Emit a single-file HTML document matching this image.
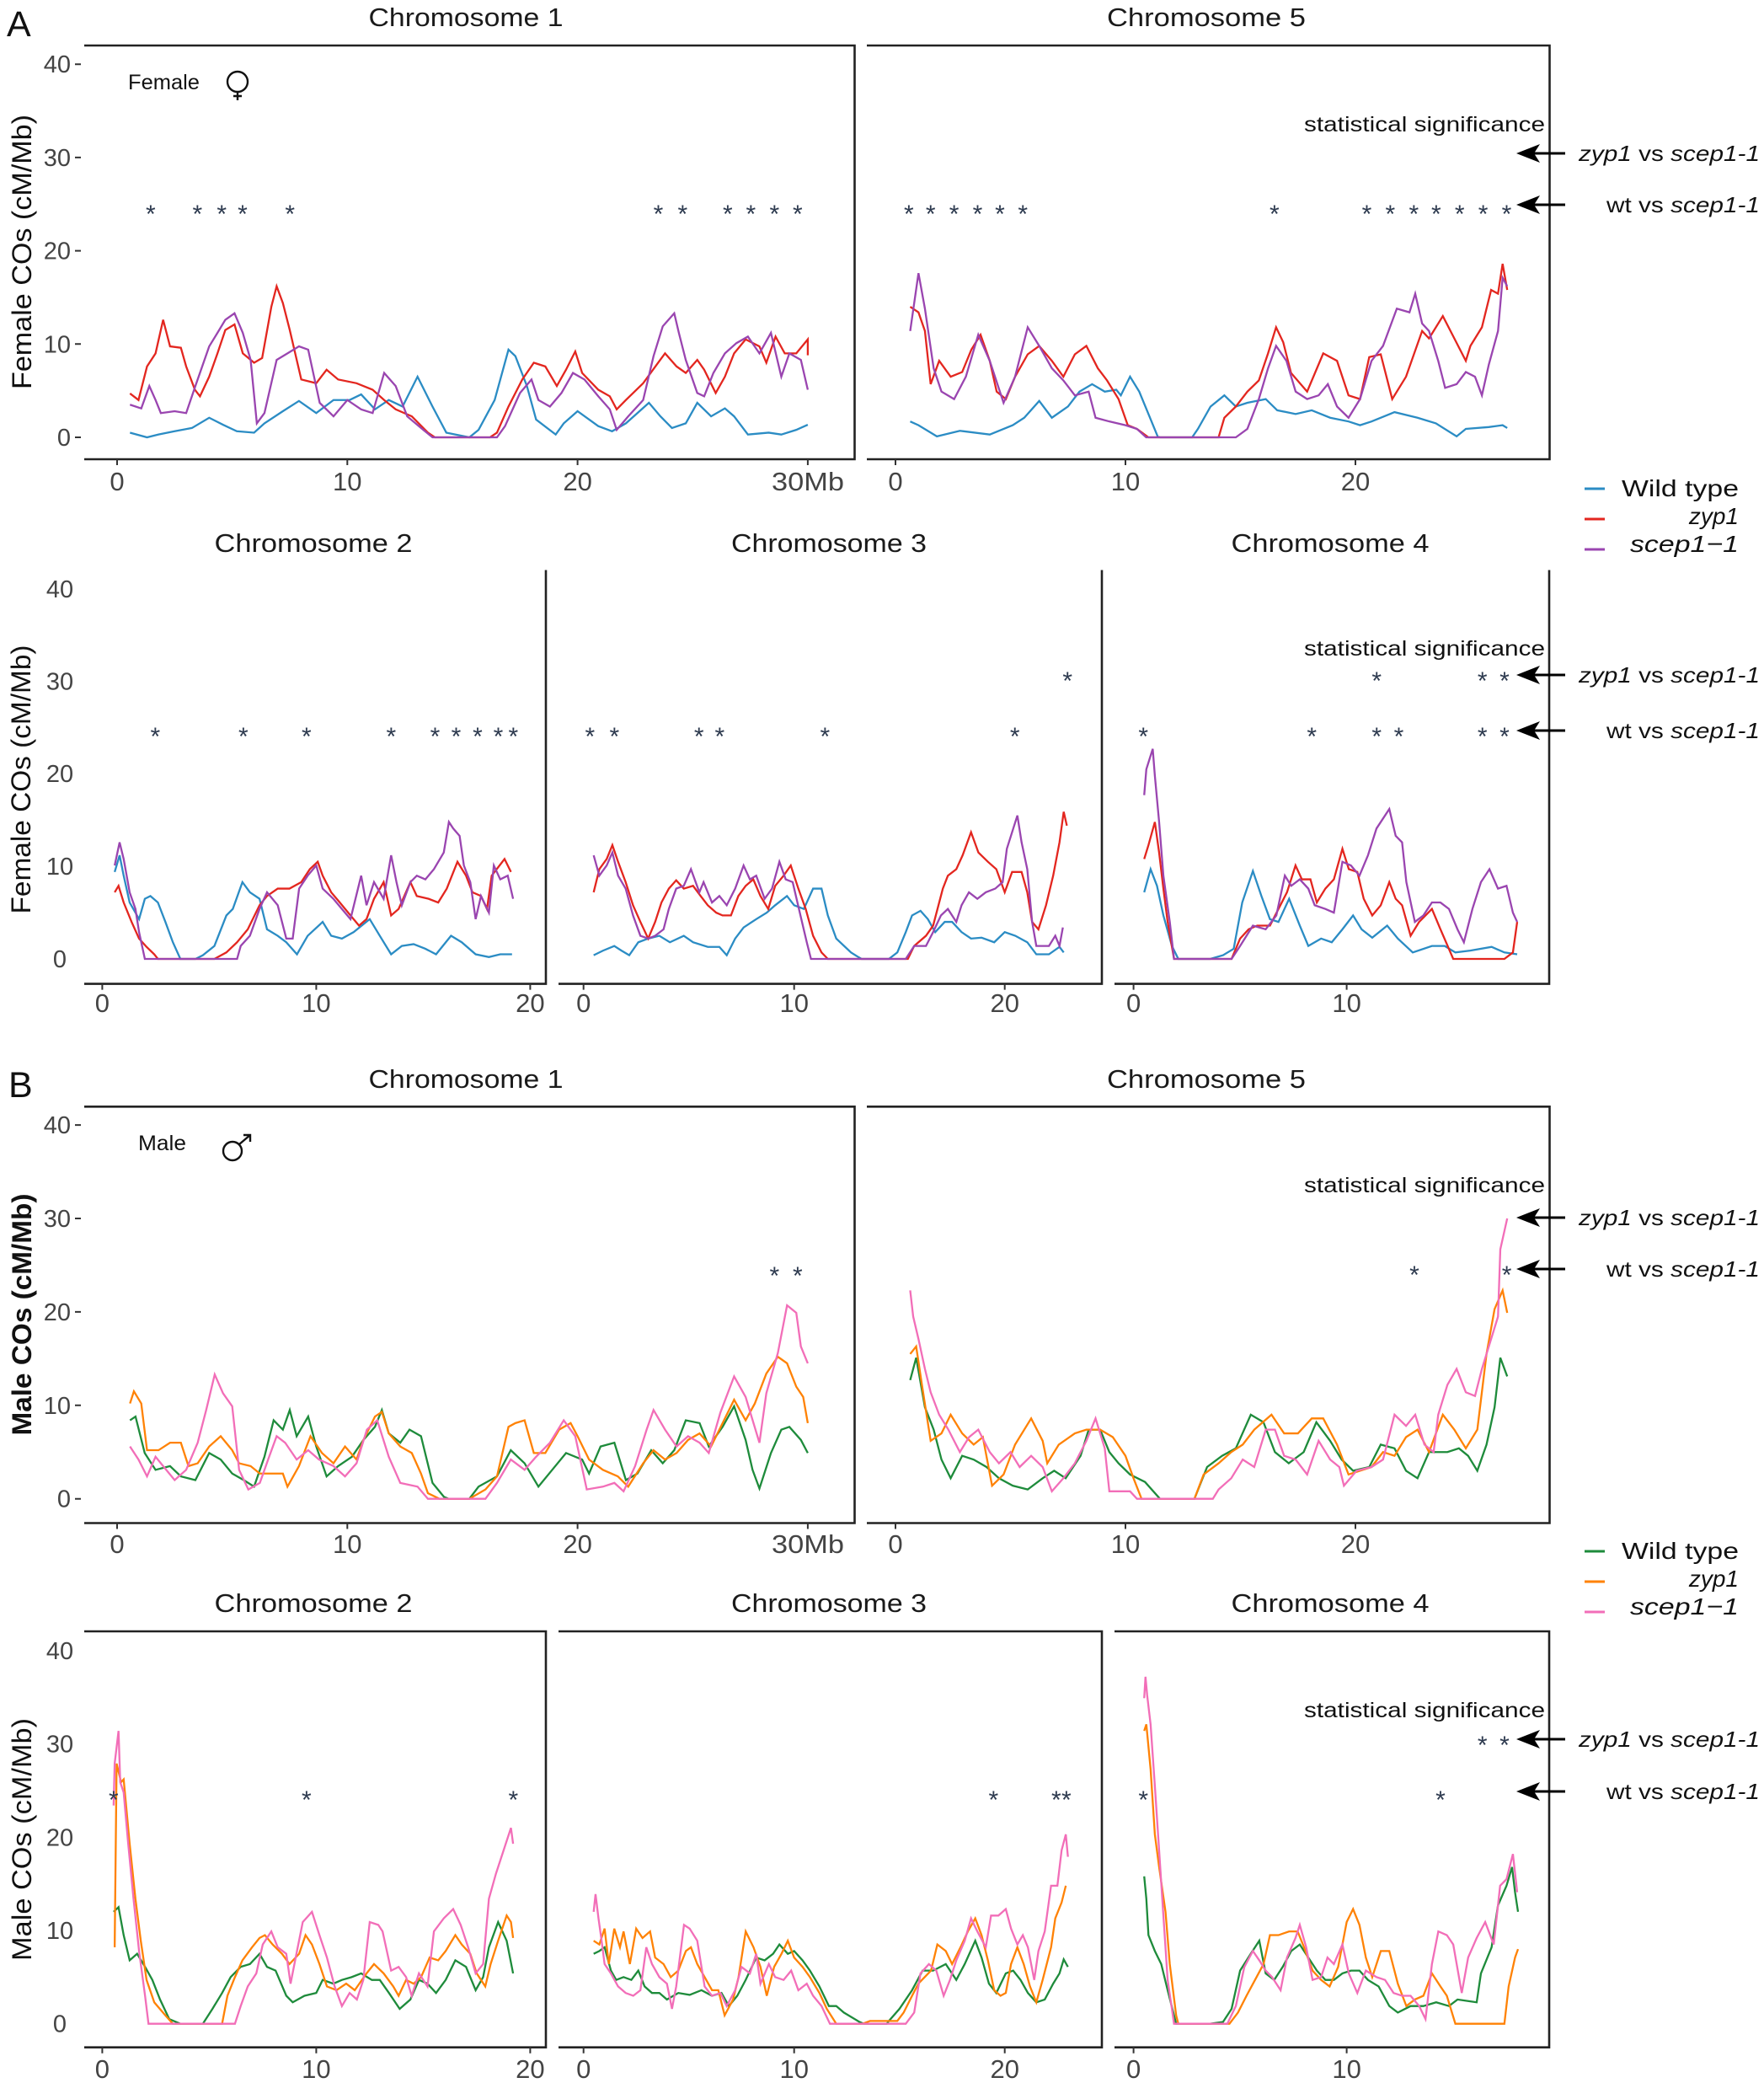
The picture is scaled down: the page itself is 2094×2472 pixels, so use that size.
<!DOCTYPE html>
<html><head><meta charset="utf-8"><style>
html,body{margin:0;padding:0;background:#fff;}
svg{display:block;}
polyline{fill:none;stroke-width:2.3;vector-effect:non-scaling-stroke;stroke-linejoin:miter;}
</style></head><body>
<svg width="2094" height="2472" viewBox="0 0 2094 2472" xmlns="http://www.w3.org/2000/svg" font-family="'Liberation Sans', Arial, sans-serif">
<rect width="2094" height="2472" fill="#fff"/>

<!-- curves: A top chr1 -->
<g transform="translate(139,519) scale(27.33,-11.07)">
<polyline stroke="#2b8cc4" points="0.56,0.5,1.3,0,1.8,0.3,2.5,0.65,3.25,1.0,4.0,2.1,4.6,1.35,5.2,0.65,5.95,0.5,6.4,1.5,7.2,2.8,7.9,3.9,8.65,2.6,9.4,4.0,10.1,4.0,10.6,4.6,11.2,3.0,11.8,4.0,12.4,3.3,13.05,6.5,13.7,3.3,14.3,0.5,15.3,0,15.7,0.8,16.4,4.0,17.0,9.4,17.3,8.7,17.8,5.5,18.2,1.9,19.05,0.3,19.4,1.5,20.0,2.8,20.9,1.2,21.5,0.65,22.1,1.5,23.1,3.7,23.6,2.25,24.1,1.0,24.7,1.5,25.2,3.7,25.8,2.25,26.4,3.1,26.8,2.25,27.4,0.3,28.3,0.5,28.85,0.3,29.5,0.8,30.0,1.35"/>
<polyline stroke="#e3261f" points="0.56,4.7,0.93,4.0,1.3,7.6,1.67,9.0,2.0,12.6,2.3,9.75,2.77,9.6,3.0,7.6,3.38,5.1,3.6,4.4,4.0,6.5,4.36,9.0,4.7,11.5,5.1,12.1,5.46,9.0,5.95,8.0,6.3,8.5,6.7,14.0,6.93,16.2,7.2,14.4,7.5,11.5,8.0,6.2,8.65,5.8,9.1,7.25,9.6,6.2,10.4,5.8,11.1,5.1,11.6,4.0,12.1,3.0,12.8,2.25,13.5,0.5,13.8,0,16.2,0,16.5,0.5,17.0,3.3,17.6,6.2,18.1,8.0,18.6,7.6,19.1,5.5,19.5,7.25,19.9,9.2,20.2,6.9,20.9,5.1,21.4,4.4,21.7,3.0,22.1,4.0,22.85,5.8,23.5,8.0,23.8,9.0,24.3,7.6,24.7,6.9,25.2,8.3,25.5,7.25,26.0,4.75,26.4,6.5,26.8,9.0,27.3,10.5,27.9,9.75,28.2,8.0,28.6,10.8,29.0,9.0,29.5,9.0,30.0,10.5,30.0,8.8"/>
<polyline stroke="#9a45b0" points="0.56,3.5,1.05,3.1,1.4,5.5,1.67,4.0,1.9,2.6,2.5,2.8,3.0,2.6,3.4,5.5,4.0,9.75,4.36,11.2,4.7,12.6,5.1,13.3,5.46,11.2,5.8,8.3,6.07,1.5,6.4,2.6,6.93,8.3,7.4,9.0,7.9,9.75,8.3,9.4,8.8,3.7,9.4,2.25,10.0,4.0,10.6,3.0,11.1,2.6,11.6,6.9,12.1,5.5,12.6,2.25,13.3,0.8,13.7,0,16.5,0,16.85,1.2,17.5,4.75,18.0,6.2,18.3,4.0,18.8,3.3,19.3,4.75,19.8,6.9,20.3,6.2,20.9,4.4,21.4,3.0,21.7,0.8,22.2,2.25,22.85,4.0,23.3,8.7,23.7,11.9,24.2,13.3,24.4,11.2,24.7,8.3,25.2,4.75,25.5,4.4,25.9,6.9,26.4,9.0,26.9,10.1,27.4,10.8,27.9,9.0,28.4,11.2,28.85,6.5,29.2,9.0,29.7,8.3,30.0,5.1"/>
</g>
<!-- A top chr5 -->
<g transform="translate(1063,519) scale(27.3,-11.07)">
<polyline stroke="#2b8cc4" points="0.64,1.7,1.0,1.3,1.8,0.1,2.8,0.7,4.1,0.3,5.1,1.3,5.6,2.1,6.25,3.9,6.8,2.1,7.5,3.3,8.0,4.9,8.55,5.7,9.1,4.9,9.6,5.1,9.8,4.5,10.2,6.5,10.6,4.9,11.0,2.5,11.4,0.1,11.5,0,12.9,0,13.15,0.9,13.7,3.3,14.3,4.5,14.8,3.3,15.3,3.7,16.1,4.1,16.6,2.9,17.4,2.5,18.1,2.9,18.9,2.1,19.7,1.7,20.2,1.3,20.7,1.7,21.7,2.7,22.7,2.1,23.5,1.5,24.4,0.1,24.8,0.9,25.8,1.1,26.4,1.3,26.6,1.0"/>
<polyline stroke="#e3261f" points="0.64,14.0,1.0,13.4,1.28,11.4,1.53,5.7,1.9,8.2,2.4,6.5,2.9,7.0,3.3,9.4,3.7,11.0,4.1,8.2,4.4,4.9,4.8,4.1,5.2,6.5,5.75,8.9,6.25,9.8,6.8,8.2,7.3,6.5,7.8,8.9,8.3,9.8,8.8,7.4,9.2,6.1,9.7,4.1,10.1,1.3,10.5,0.9,11.0,0,14.05,0,14.3,2.1,14.8,3.3,15.3,4.9,15.8,6.1,16.2,9.0,16.55,11.8,16.86,10.2,17.2,6.9,17.9,4.9,18.6,9.0,19.2,8.2,19.7,4.5,20.2,4.1,20.6,8.6,21.1,8.9,21.6,4.1,22.2,6.5,22.9,11.4,23.2,10.6,23.8,13.0,24.3,10.6,24.8,8.2,25.0,9.8,25.5,11.8,25.9,15.8,26.2,15.4,26.4,18.6,26.6,15.8"/>
<polyline stroke="#9a45b0" points="0.64,11.4,1.0,17.6,1.28,13.8,1.66,7.4,2.0,4.9,2.55,4.1,3.06,6.5,3.6,11.0,4.1,8.2,4.7,3.7,5.2,6.5,5.75,11.8,6.25,9.8,6.8,7.4,7.3,6.1,7.8,4.5,8.4,4.9,8.7,2.1,9.3,1.7,10.0,1.3,10.5,0.9,10.9,0,14.8,0,15.3,0.9,15.8,4.1,16.2,7.4,16.55,9.8,17.0,8.2,17.4,4.9,17.9,4.1,18.4,4.5,18.8,5.7,19.2,3.3,19.7,2.1,20.2,4.1,20.7,8.2,21.2,9.8,21.8,13.8,22.35,13.4,22.6,15.4,22.9,12.2,23.2,11.4,23.6,8.2,23.9,5.3,24.4,5.7,24.8,7.0,25.2,6.5,25.5,4.5,25.8,7.8,26.2,11.4,26.4,17.1,26.6,16.2"/>
</g>
<!-- A bottom chr2 -->
<g transform="translate(121.4,1138) scale(25.4,-10.98)">
<polyline stroke="#2b8cc4" points="0.58,9.4,0.81,11.2,1.0,9.0,1.28,6.1,1.55,5.0,1.72,4.3,1.99,6.5,2.25,6.8,2.6,6.1,2.95,4.0,3.3,1.8,3.65,0,4.36,0,4.7,0.4,5.24,1.4,5.8,4.7,6.1,5.4,6.55,8.3,6.9,7.2,7.35,6.5,7.7,3.2,8.2,2.5,8.6,1.8,9.1,0.5,9.6,2.5,10.3,4.0,10.7,2.5,11.2,2.2,11.75,2.9,12.5,4.3,12.97,2.5,13.5,0.5,14.0,1.4,14.55,1.6,15.1,1.1,15.6,0.5,16.3,2.5,16.8,1.8,17.45,0.5,18.07,0.2,18.6,0.5,19.15,0.5"/>
<polyline stroke="#e3261f" points="0.58,7.2,0.76,7.9,1.0,6.1,1.37,4.0,1.72,2.2,2.07,1.3,2.43,0.5,2.6,0,5.24,0,5.8,0.7,6.3,1.8,6.8,3.2,7.35,5.8,7.7,6.8,8.2,7.6,8.75,7.6,9.3,8.3,9.7,9.7,10.07,10.5,10.3,9.0,10.7,7.2,11.1,6.1,11.6,4.7,12.0,3.6,12.35,4.3,12.7,6.5,13.15,8.3,13.5,4.7,13.85,5.4,14.4,8.3,14.7,6.8,15.25,6.5,15.7,6.1,16.1,7.6,16.6,10.5,17.0,9.0,17.3,7.2,17.7,6.8,17.98,5.4,18.2,9.0,18.8,10.8,19.1,9.4"/>
<polyline stroke="#9a45b0" points="0.58,10.1,0.81,12.6,1.0,10.8,1.28,7.2,1.55,5.4,1.72,2.9,1.99,0,6.3,0,6.47,1.4,6.9,2.5,7.35,5.4,7.7,7.2,8.2,5.8,8.6,2.2,8.9,2.2,9.2,7.6,9.6,9.0,10.0,10.1,10.3,7.6,10.8,6.5,11.2,5.4,11.6,4.3,12.1,9.0,12.35,5.8,12.7,8.3,13.15,6.5,13.5,11.2,13.75,8.3,14.0,5.8,14.4,8.3,14.7,9.0,15.1,8.6,15.5,9.7,15.96,11.5,16.2,14.8,16.4,14.1,16.7,13.3,16.9,10.1,17.2,8.3,17.45,4.3,17.7,6.8,18.07,5.0,18.3,10.1,18.6,8.6,18.95,9.0,19.2,6.5"/>
</g>
<!-- A bottom chr3 -->
<g transform="translate(692.7,1138) scale(25.0,-10.98)">
<polyline stroke="#2b8cc4" points="0.48,0.4,0.93,0.9,1.46,1.4,1.8,0.9,2.17,0.4,2.6,1.8,3.07,2.2,3.6,2.5,4.1,1.8,4.76,2.5,5.2,1.8,5.9,1.3,6.45,1.3,6.8,0.4,7.2,2.2,7.6,3.4,8.2,4.3,8.7,5.0,9.1,5.8,9.66,6.8,10.0,5.8,10.46,5.4,10.9,7.6,11.3,7.6,11.6,4.7,12.0,2.2,12.7,0.7,13.05,0.2,13.2,0,14.5,0,14.9,0.7,15.3,2.9,15.6,4.7,16.0,5.2,16.35,4.3,16.7,2.9,17.15,4.0,17.5,4.0,17.95,2.9,18.4,2.2,18.9,2.3,19.5,1.8,20.0,2.9,20.5,2.5,21.07,1.8,21.5,0.5,22.1,0.5,22.6,1.3,22.8,0.7"/>
<polyline stroke="#e3261f" points="0.48,7.2,0.75,9.7,1.1,10.8,1.37,12.3,1.64,10.5,2.0,8.3,2.35,5.8,2.7,4.0,3.07,2.2,3.4,4.0,3.7,6.1,4.05,7.6,4.4,8.5,4.76,7.6,5.2,7.9,5.56,6.8,5.9,5.8,6.3,5.0,6.6,4.7,7.0,4.7,7.35,6.8,7.7,7.9,8.06,8.6,8.4,6.8,8.77,5.4,9.1,7.9,9.5,9.0,9.84,10.1,10.2,7.6,10.55,5.4,10.9,2.5,11.3,0.7,11.6,0,15.4,0,15.7,1.4,16.26,2.5,16.6,3.6,17.06,7.6,17.3,9.0,17.7,9.7,18.0,11.2,18.4,13.7,18.75,11.5,19.2,10.5,19.6,9.7,20.0,7.2,20.35,9.4,20.8,9.4,21.07,7.2,21.3,4.0,21.6,3.2,21.96,5.8,22.3,9.0,22.6,12.6,22.8,15.9,22.95,14.4"/>
<polyline stroke="#9a45b0" points="0.48,11.2,0.75,9.0,1.1,10.1,1.37,11.5,1.64,9.0,2.0,7.6,2.35,4.7,2.7,2.5,3.07,2.2,3.4,2.5,3.8,3.2,4.05,5.4,4.4,7.6,4.76,7.9,5.1,9.7,5.5,7.2,5.7,8.3,6.1,6.1,6.45,6.8,6.8,5.8,7.2,7.6,7.6,10.1,7.9,8.6,8.2,9.0,8.6,6.5,8.95,7.6,9.3,10.5,9.6,8.6,9.93,8.3,10.3,4.7,10.6,1.8,10.8,0,15.3,0,15.7,1.4,16.26,1.4,16.6,2.9,16.97,4.7,17.3,5.4,17.7,4.0,17.95,5.8,18.3,7.2,18.7,6.5,19.1,7.2,19.55,7.6,19.9,8.3,20.1,11.9,20.35,13.7,20.6,15.5,20.8,12.6,21.07,9.7,21.3,4.0,21.5,1.4,22.1,1.4,22.4,2.5,22.6,1.4,22.76,3.4"/>
</g>
<!-- A bottom chr4 -->
<g transform="translate(1345.6,1138) scale(25.3,-10.98)">
<polyline stroke="#2b8cc4" points="0.5,7.2,0.8,9.7,1.1,7.9,1.4,4.7,1.8,1.4,2.1,0,3.6,0,4.2,0.4,4.7,1.1,5.1,6.1,5.6,9.5,6.0,6.8,6.4,4.3,6.8,4.0,7.3,6.5,7.8,3.6,8.2,1.4,8.8,2.2,9.3,1.8,9.8,3.2,10.3,4.7,10.7,3.2,11.2,2.3,11.9,3.6,12.4,2.2,13.1,0.7,14.0,1.4,14.6,1.4,15.1,0.7,15.8,0.9,16.8,1.3,17.4,0.7,18.0,0.5"/>
<polyline stroke="#e3261f" points="0.5,10.8,0.7,12.3,1.0,14.8,1.2,11.5,1.4,7.6,1.6,4.0,1.9,0,4.6,0,5.0,2.2,5.4,3.2,5.8,3.6,6.4,3.6,6.8,5.4,7.2,7.2,7.6,10.1,7.9,8.6,8.3,8.6,8.6,6.1,9.0,7.6,9.4,8.6,9.8,11.9,10.1,9.7,10.5,9.4,10.8,6.5,11.2,4.7,11.6,5.8,12.0,8.3,12.3,6.5,12.6,5.8,13.0,2.5,13.4,4.0,14.0,5.4,14.4,3.2,15.0,0,17.4,0,17.8,0.7,18.0,4.0"/>
<polyline stroke="#9a45b0" points="0.5,17.7,0.6,20.5,0.9,22.7,1.0,19.8,1.2,14.8,1.4,9.0,1.7,4.0,1.9,0,4.6,0,5.0,1.4,5.6,3.6,6.2,3.2,6.7,4.7,7.1,9.0,7.4,7.9,7.8,8.6,8.2,7.6,8.5,5.8,9.0,5.4,9.4,5.0,9.8,10.5,10.2,10.1,10.6,9.0,11.0,11.2,11.4,14.1,12.0,16.2,12.3,13.3,12.6,12.6,12.8,8.3,13.2,4.0,13.6,4.7,14.0,6.1,14.4,6.1,14.8,5.4,15.2,3.2,15.5,1.8,15.9,5.4,16.3,8.3,16.7,9.7,17.1,7.6,17.5,7.9,17.8,5.0,18.0,4.0"/>
</g>
<!-- B top chr1 -->
<g transform="translate(139,1778.7) scale(27.33,-11.09)">
<polyline stroke="#1e8b3b" points="0.56,8.4,0.8,8.8,1.2,4.9,1.67,3.1,2.3,3.5,2.77,2.4,3.4,2.0,4.0,4.9,4.5,4.2,5.0,2.7,5.5,2.0,5.95,1.3,6.4,4.5,6.8,8.4,7.2,7.4,7.5,9.5,7.8,6.7,8.3,8.8,8.65,5.6,9.1,2.4,9.6,3.5,10.2,4.5,10.7,6.3,11.2,7.7,11.5,9.5,11.8,7.0,12.3,6.0,12.7,7.4,13.2,6.7,13.7,1.7,14.2,0.2,14.4,0,15.3,0,15.7,1.3,16.5,2.4,17.1,5.2,17.7,3.8,18.3,1.3,18.9,3.1,19.5,4.9,20.2,4.2,20.5,2.7,21.0,5.6,21.6,6.0,22.1,2.0,22.6,2.7,23.2,5.2,23.7,3.8,24.2,5.2,24.7,8.4,25.3,8.1,25.7,5.6,26.3,7.7,26.8,9.9,27.3,6.3,27.6,3.1,27.9,1.1,28.4,4.9,28.85,7.4,29.2,7.7,29.7,6.3,30.0,4.9"/>
<polyline stroke="#ff8205" points="0.56,10.2,0.73,11.5,1.05,10.2,1.3,5.2,1.8,5.2,2.3,6.0,2.77,6.0,3.1,3.5,3.5,3.8,4.0,5.6,4.5,6.7,5.0,5.2,5.3,3.8,5.8,3.5,6.2,2.7,6.6,2.7,7.2,2.7,7.4,1.3,7.9,3.5,8.4,6.7,8.9,4.9,9.4,3.8,9.9,5.6,10.4,4.2,10.7,6.3,11.2,8.8,11.5,9.3,11.8,7.0,12.3,5.6,12.8,4.9,13.2,2.7,13.5,0.6,14.0,0,15.3,0,16.0,1.0,16.5,2.4,17.0,7.7,17.3,8.1,17.7,8.4,18.1,4.9,18.6,4.9,19.2,7.4,19.7,8.1,20.0,6.7,20.5,4.2,21.1,3.1,21.75,2.4,22.2,1.3,22.85,3.8,23.3,5.2,23.8,4.2,24.3,4.9,24.8,6.3,25.3,7.0,25.8,5.6,26.3,8.1,26.8,10.6,27.3,8.4,27.7,10.2,28.2,13.4,28.7,15.2,29.1,14.5,29.5,12.0,29.8,10.9,30.0,8.1"/>
<polyline stroke="#f26eb8" points="0.56,5.6,0.93,4.2,1.3,2.4,1.67,4.5,2.0,3.5,2.5,2.0,3.0,3.1,3.5,6.0,3.87,9.5,4.24,13.3,4.6,11.3,5.0,9.9,5.3,3.1,5.7,1.0,6.2,1.7,6.56,4.2,6.93,6.7,7.3,6.0,7.8,4.2,8.3,5.2,8.77,4.2,9.4,3.5,9.9,2.4,10.4,3.8,10.85,7.4,11.3,8.4,11.8,4.5,12.3,1.7,13.05,1.3,13.5,0,16.0,0,16.5,1.7,17.1,4.2,17.7,3.1,18.2,4.5,18.8,6.0,19.4,8.4,19.9,6.7,20.4,1.0,21.1,1.3,21.6,1.7,22.0,0.8,22.5,3.5,23.0,7.4,23.3,9.5,23.8,7.4,24.3,5.6,24.8,6.7,25.3,6.0,25.7,4.9,26.2,9.2,26.8,13.1,27.3,10.9,27.9,6.0,28.2,11.3,28.7,15.6,29.1,20.7,29.5,19.9,29.7,16.3,30.0,14.5"/>
</g>
<!-- B top chr5 -->
<g transform="translate(1063,1778.7) scale(27.3,-11.09)">
<polyline stroke="#1e8b3b" points="0.64,12.7,0.9,15.1,1.28,9.8,1.66,7.4,2.0,4.2,2.4,2.2,2.9,4.6,3.4,4.2,3.96,3.4,4.5,2.2,5.1,1.4,5.75,1.0,6.4,2.2,6.9,3.0,7.4,2.2,8.05,4.6,8.4,7.4,8.9,7.4,9.3,5.0,9.7,3.8,10.2,2.6,10.85,1.8,11.5,0,13.0,0,13.55,3.4,14.2,4.6,14.8,5.4,15.45,9.0,16.0,8.2,16.5,5.0,17.1,3.8,17.75,5.0,18.3,8.2,18.9,6.2,19.4,4.2,19.9,3.0,20.6,3.4,21.1,5.8,21.7,5.4,22.2,3.0,22.7,2.2,23.2,5.0,24.0,5.0,24.5,5.4,24.9,4.6,25.3,3.0,25.7,5.8,26.05,9.8,26.3,15.1,26.6,13.1"/>
<polyline stroke="#ff8205" points="0.64,15.5,0.9,16.3,1.15,12.2,1.53,6.2,2.0,7.0,2.4,9.0,2.9,7.0,3.4,5.8,3.8,6.6,4.2,1.4,4.7,2.6,5.2,5.8,5.9,8.6,6.4,6.2,6.6,3.8,7.1,5.8,7.8,7.0,8.3,7.4,8.9,7.4,9.45,6.6,10.0,4.6,10.35,2.2,10.7,0,13.0,0,13.4,2.6,14.05,3.8,14.6,5.0,15.1,5.8,15.6,7.4,16.35,9.0,16.9,7.0,17.5,7.0,18.1,8.6,18.6,8.6,19.2,5.8,19.7,2.6,20.2,3.0,20.7,3.4,21.2,5.0,21.7,4.6,22.2,6.6,22.7,7.4,23.2,5.0,23.8,9.0,24.3,7.4,24.8,5.4,25.3,7.4,25.7,15.5,26.05,20.3,26.4,22.3,26.6,19.9"/>
<polyline stroke="#f26eb8" points="0.64,22.3,0.77,19.5,1.0,17.1,1.28,13.9,1.53,11.4,1.9,9.0,2.3,7.4,2.8,5.0,3.2,6.6,3.6,7.4,4.1,5.0,4.5,3.8,5.0,5.0,5.4,3.4,5.9,4.6,6.4,3.4,6.8,0.8,7.3,2.2,7.8,3.8,8.3,6.2,8.7,8.6,9.1,5.4,9.3,0.8,10.2,0.8,10.5,0,13.8,0,14.05,1.0,14.6,2.2,15.1,4.2,15.6,3.4,16.1,7.4,16.5,7.4,16.9,4.6,17.4,4.2,17.9,2.6,18.4,6.2,18.9,4.2,19.3,3.4,19.5,1.4,20.05,3.0,20.7,3.4,21.2,4.2,21.7,9.0,22.2,7.8,22.6,9.0,23.0,5.8,23.4,5.0,23.6,9.0,24.0,12.2,24.4,13.9,24.8,11.4,25.2,11.0,25.5,13.9,25.9,17.1,26.2,19.5,26.3,26.7,26.6,30.0"/>
</g>
<!-- B bottom chr2 -->
<g transform="translate(121.4,2401.7) scale(25.4,-11.07)">
<polyline stroke="#1e8b3b" points="0.53,12.0,0.76,12.5,1.0,9.5,1.28,6.8,1.63,7.5,2.0,6.1,2.34,4.7,2.7,2.6,3.13,0.5,3.65,0,4.7,0,5.15,1.6,5.6,3.3,6.0,5.0,6.47,6.1,6.9,6.4,7.35,7.5,7.7,6.1,8.1,5.7,8.6,3.0,8.9,2.3,9.45,3.0,10.0,3.3,10.3,4.7,10.8,4.3,11.2,4.7,11.65,5.0,12.1,5.4,12.6,4.7,12.97,4.7,13.4,3.3,13.9,1.6,14.4,2.6,14.8,4.7,15.2,4.3,15.6,3.3,16.05,4.7,16.5,6.8,17.0,6.1,17.45,3.6,17.8,5.0,18.07,8.2,18.5,10.9,18.9,8.9,19.2,5.4"/>
<polyline stroke="#ff8205" points="0.58,8.2,0.67,27.9,0.88,25.9,1.0,26.2,1.28,19.3,1.55,13.4,1.8,8.9,2.07,4.7,2.43,2.3,2.95,0.9,3.3,0,5.6,0,5.85,3.0,6.2,5.0,6.55,6.8,7.0,8.2,7.35,9.2,7.6,9.5,7.96,8.5,8.4,7.5,8.75,6.4,9.2,7.5,9.5,9.5,9.8,8.5,10.15,6.4,10.5,4.0,10.95,3.6,11.4,4.3,11.8,3.6,12.35,5.4,12.7,6.4,13.15,5.4,13.6,4.0,13.85,3.0,14.2,4.7,14.55,4.3,14.9,5.0,15.3,7.1,15.7,6.8,16.05,7.8,16.5,9.5,16.8,8.5,17.2,7.5,17.5,5.4,17.9,4.0,18.15,6.4,18.5,8.9,18.9,11.6,19.1,10.9,19.2,9.2"/>
<polyline stroke="#f26eb8" points="0.53,23.4,0.58,27.9,0.76,31.4,0.84,25.9,1.0,24.8,1.2,19.6,1.46,13.4,1.72,7.8,2.0,3.0,2.16,0,6.2,0,6.47,1.9,6.8,4.0,7.2,5.4,7.5,8.5,7.9,9.9,8.2,8.2,8.6,7.5,8.8,4.3,9.1,7.8,9.37,10.9,9.8,12.0,10.15,9.5,10.5,7.1,10.86,4.0,11.2,1.9,11.56,3.3,11.9,2.6,12.2,4.7,12.5,10.9,12.9,10.6,13.1,9.9,13.5,5.7,13.85,6.1,14.2,5.0,14.46,3.0,14.8,5.4,15.2,4.0,15.5,9.9,15.96,11.3,16.4,12.3,16.75,10.6,17.1,8.2,17.45,5.4,17.8,6.4,18.07,13.4,18.4,16.1,18.8,18.9,19.1,21.0,19.2,19.3"/>
</g>
<!-- B bottom chr3 -->
<g transform="translate(692.7,2401.7) scale(25.0,-11.07)">
<polyline stroke="#1e8b3b" points="0.48,7.5,0.75,7.8,1.0,8.2,1.3,5.7,1.55,4.7,1.9,5.0,2.27,4.7,2.6,5.7,2.9,4.0,3.25,3.3,3.6,3.3,3.96,2.6,4.5,3.3,5.04,3.1,5.6,3.6,6.1,3.0,6.55,3.3,6.9,1.9,7.3,3.0,7.7,4.7,8.2,7.1,8.6,6.8,9.0,7.5,9.3,8.5,9.7,7.5,10.0,7.8,10.4,6.8,10.75,5.7,11.2,4.0,11.65,1.9,12.0,1.9,12.36,1.2,13.1,0.2,13.3,0,14.4,0,14.5,0.3,15.0,1.6,15.6,3.6,16.1,5.7,16.6,5.7,17.2,6.4,17.7,4.7,18.1,6.4,18.6,8.9,18.9,7.1,19.25,4.3,19.6,3.3,20.05,5.4,20.4,5.7,20.75,4.7,21.1,3.3,21.5,2.3,21.9,2.6,22.3,4.3,22.6,5.4,22.8,6.9,23.0,6.1"/>
<polyline stroke="#ff8205" points="0.48,8.9,0.75,8.5,1.0,10.2,1.2,6.4,1.46,10.2,1.73,8.2,1.9,9.9,2.2,6.4,2.5,10.2,2.8,9.2,3.16,9.9,3.4,7.1,3.8,6.4,4.14,5.0,4.5,5.7,4.86,7.8,5.1,8.2,5.4,6.4,5.75,5.0,6.1,3.6,6.4,3.6,6.7,0.9,7.1,2.6,7.36,5.0,7.7,9.9,8.07,8.2,8.4,6.1,8.7,3.0,9.05,6.1,9.4,7.5,9.7,8.9,10.0,7.1,10.4,6.1,10.75,5.0,11.2,3.3,11.55,1.6,12.0,0,13.25,0,13.6,0.3,14.9,0.3,15.2,1.2,15.6,3.0,15.9,4.3,16.5,5.7,16.8,8.5,17.2,7.8,17.5,6.4,17.9,8.2,18.25,9.9,18.6,11.3,18.9,9.5,19.2,6.8,19.5,3.6,19.8,3.0,20.05,3.3,20.3,6.4,20.6,8.2,20.9,6.4,21.2,4.0,21.5,2.3,21.8,4.7,22.2,8.2,22.4,11.3,22.7,13.0,22.9,14.8"/>
<polyline stroke="#f26eb8" points="0.48,12.0,0.57,13.9,0.71,11.3,0.84,9.2,1.0,6.4,1.3,5.4,1.64,4.0,2.0,3.3,2.36,3.0,2.7,3.6,2.98,8.2,3.25,6.4,3.6,5.0,3.96,4.3,4.2,1.6,4.4,4.0,4.77,10.6,5.04,10.2,5.4,8.9,5.75,4.0,6.1,3.0,6.5,3.3,6.8,1.9,7.2,3.6,7.5,6.1,7.9,5.4,8.2,7.5,8.4,4.3,8.8,6.4,9.1,5.0,9.5,4.7,9.86,5.7,10.2,3.6,10.6,4.3,10.9,3.0,11.3,1.9,11.7,0,15.3,0,15.7,1.2,16.0,5.4,16.4,6.4,16.75,5.7,17.1,3.0,17.4,4.7,17.7,6.8,18.1,8.9,18.4,11.3,18.7,9.9,19.1,8.2,19.35,11.6,19.7,11.6,20.05,12.3,20.3,10.2,20.6,8.5,20.86,9.5,21.1,8.2,21.4,4.7,21.6,7.8,21.9,9.9,22.2,14.8,22.5,14.8,22.7,18.6,22.9,20.3,23.0,17.9"/>
</g>
<!-- B bottom chr4 -->
<g transform="translate(1345.6,2401.7) scale(25.3,-11.07)">
<polyline stroke="#1e8b3b" points="0.5,15.8,0.6,13.4,0.7,9.5,1.0,7.8,1.3,6.4,1.6,3.6,1.9,0.9,2.0,0,3.6,0,4.2,0.2,4.6,1.6,5.0,5.7,5.5,7.5,5.9,8.9,6.2,5.4,6.6,4.7,7.0,6.1,7.4,7.8,7.8,8.5,8.2,7.1,8.6,5.7,9.0,4.7,9.4,4.7,9.8,5.4,10.2,5.7,10.6,5.7,11.0,4.7,11.5,4.0,12.0,1.9,12.4,1.2,13.0,1.9,13.6,1.9,14.2,2.3,14.8,1.9,15.2,2.6,15.8,2.4,16.1,2.3,16.3,5.4,16.8,8.2,17.1,12.7,17.5,14.8,17.76,16.8,17.9,14.1,18.04,12.0"/>
<polyline stroke="#ff8205" points="0.5,31.4,0.6,32.1,0.8,27.3,1.0,20.3,1.2,16.8,1.5,12.0,1.7,6.4,2.0,0.9,2.1,0,4.5,0,4.9,1.2,5.3,3.0,5.7,4.7,6.1,6.4,6.4,9.5,6.8,9.5,7.3,9.9,7.7,9.9,8.0,8.2,8.4,5.7,8.8,4.7,9.2,4.0,9.6,6.1,10.0,10.9,10.3,12.3,10.6,10.6,10.9,7.1,11.2,5.0,11.6,7.8,12.0,7.8,12.4,4.3,12.8,1.9,13.2,2.6,13.6,3.0,14.0,5.4,14.4,4.0,14.7,3.0,15.1,0,17.4,0,17.6,4.0,17.9,7.1,18.04,8.0"/>
<polyline stroke="#f26eb8" points="0.5,34.9,0.56,37.2,0.64,35.2,0.8,32.1,1.0,25.5,1.2,18.6,1.4,11.6,1.6,4.7,1.8,1.6,1.9,0,4.4,0,4.8,1.9,5.2,6.1,5.6,7.8,5.9,6.8,6.2,5.7,6.5,5.0,6.9,3.6,7.2,7.1,7.6,9.2,7.8,10.6,8.1,8.2,8.4,4.7,8.8,5.0,9.1,7.1,9.4,6.4,9.8,8.5,10.1,5.4,10.5,3.3,10.9,5.7,11.4,5.0,11.8,4.7,12.2,3.3,12.6,3.0,13.0,3.0,13.4,1.9,13.7,0.5,14.0,6.4,14.3,9.9,14.7,9.5,15.0,8.5,15.4,3.3,15.7,7.1,16.1,9.2,16.5,10.9,16.9,8.5,17.2,14.8,17.5,15.5,17.8,18.2,18.0,14.1"/>
</g>

<!-- panel frames -->
<g fill="none" stroke="#222" stroke-width="2.6">
<path d="M100,54 H1014.5 V545 H100"/>
<path d="M1029,54 H1839.5 V545 H1029"/>
<path d="M648,676.5 V1167.6 H100"/>
<path d="M1308,676.5 V1167.6 H663"/>
<path d="M1839,676.5 V1167.6 H1323"/>
<path d="M100,1313.3 H1014.5 V1807.5 H100"/>
<path d="M1029,1313.3 H1839.5 V1807.5 H1029"/>
<path d="M100,1936 H648 V2429.7 H100"/>
<path d="M663,1936 H1308 V2429.7 H663"/>
<path d="M1323,1936 H1839 V2429.7 H1323"/>
</g>

<!-- x ticks -->
<g stroke="#333" stroke-width="2">
<path d="M139,545v7M412.3,545v7M685.6,545v7M958.9,545v7M1063,545v7M1336,545v7M1609,545v7"/>
<path d="M139,1807.5v7M412.3,1807.5v7M685.6,1807.5v7M958.9,1807.5v7M1063,1807.5v7M1336,1807.5v7M1609,1807.5v7"/>
<path d="M121.4,1167.6v7M375.4,1167.6v7M629.4,1167.6v7M692.7,1167.6v7M942.7,1167.6v7M1192.7,1167.6v7M1345.6,1167.6v7M1598.6,1167.6v7"/>
<path d="M121.4,2429.7v7M375.4,2429.7v7M629.4,2429.7v7M692.7,2429.7v7M942.7,2429.7v7M1192.7,2429.7v7M1345.6,2429.7v7M1598.6,2429.7v7"/>
<path d="M89,519h7M89,408.3h7M89,297.6h7M89,186.9h7M89,76.2h7"/>
<path d="M89,1778.7h7M89,1667.8h7M89,1556.9h7M89,1446h7M89,1335.1h7"/>
</g>

<!-- x tick labels -->
<g fill="#444" font-size="31" text-anchor="middle">
<text x="139" y="582">0</text><text x="412.3" y="582">10</text><text x="685.6" y="582">20</text><text x="959" y="582" textLength="86" lengthAdjust="spacingAndGlyphs">30Mb</text>
<text x="1063" y="582">0</text><text x="1336" y="582">10</text><text x="1609" y="582">20</text>
<text x="139" y="1843">0</text><text x="412.3" y="1843">10</text><text x="685.6" y="1843">20</text><text x="959" y="1843" textLength="86" lengthAdjust="spacingAndGlyphs">30Mb</text>
<text x="1063" y="1843">0</text><text x="1336" y="1843">10</text><text x="1609" y="1843">20</text>
<text x="121.4" y="1201">0</text><text x="375.4" y="1201">10</text><text x="629.4" y="1201">20</text>
<text x="692.7" y="1201">0</text><text x="942.7" y="1201">10</text><text x="1192.7" y="1201">20</text>
<text x="1345.6" y="1201">0</text><text x="1598.6" y="1201">10</text>
<text x="121.4" y="2466">0</text><text x="375.4" y="2466">10</text><text x="629.4" y="2466">20</text>
<text x="692.7" y="2466">0</text><text x="942.7" y="2466">10</text><text x="1192.7" y="2466">20</text>
<text x="1345.6" y="2466">0</text><text x="1598.6" y="2466">10</text>
</g>

<!-- y tick labels -->
<g fill="#444" font-size="29" text-anchor="end">
<text x="84" y="529">0</text><text x="84" y="418.3">10</text><text x="84" y="307.6">20</text><text x="84" y="196.9">30</text><text x="84" y="86.2">40</text>
<text x="84" y="1788.7">0</text><text x="84" y="1677.8">10</text><text x="84" y="1566.9">20</text><text x="84" y="1456">30</text><text x="84" y="1345.1">40</text>
</g>
<g fill="#444" font-size="29" text-anchor="middle">
<text x="71" y="1148">0</text><text x="71" y="1038">10</text><text x="71" y="928">20</text><text x="71" y="818.6">30</text><text x="71" y="708.8">40</text>
<text x="71" y="2411.7">0</text><text x="71" y="2301">10</text><text x="71" y="2190.3">20</text><text x="71" y="2079.6">30</text><text x="71" y="1968.9">40</text>
</g>

<!-- y axis titles -->
<g fill="#111" font-size="32" text-anchor="middle">
<text transform="translate(37,299) rotate(-90)" textLength="326" lengthAdjust="spacingAndGlyphs">Female COs (cM/Mb)</text>
<text transform="translate(36,925) rotate(-90)" textLength="319" lengthAdjust="spacingAndGlyphs">Female COs (cM/Mb)</text>
<text transform="translate(37,1560) rotate(-90)" textLength="287" lengthAdjust="spacingAndGlyphs" font-weight="bold">Male COs (cM/Mb)</text>
<text transform="translate(37,2183) rotate(-90)" textLength="288" lengthAdjust="spacingAndGlyphs">Male COs (cM/Mb)</text>
</g>

<!-- panel titles -->
<g fill="#1a1a1a" font-size="31" text-anchor="middle">
<text x="553" y="31" textLength="231" lengthAdjust="spacingAndGlyphs">Chromosome 1</text>
<text x="1432" y="31" textLength="236" lengthAdjust="spacingAndGlyphs">Chromosome 5</text>
<text x="372" y="655" textLength="235" lengthAdjust="spacingAndGlyphs">Chromosome 2</text>
<text x="984" y="655" textLength="232" lengthAdjust="spacingAndGlyphs">Chromosome 3</text>
<text x="1579" y="655" textLength="235" lengthAdjust="spacingAndGlyphs">Chromosome 4</text>
<text x="553" y="1291" textLength="231" lengthAdjust="spacingAndGlyphs">Chromosome 1</text>
<text x="1432" y="1291" textLength="236" lengthAdjust="spacingAndGlyphs">Chromosome 5</text>
<text x="372" y="1913" textLength="235" lengthAdjust="spacingAndGlyphs">Chromosome 2</text>
<text x="984" y="1913" textLength="232" lengthAdjust="spacingAndGlyphs">Chromosome 3</text>
<text x="1579" y="1913" textLength="235" lengthAdjust="spacingAndGlyphs">Chromosome 4</text>
</g>

<text x="8" y="43" font-size="43" fill="#111">A</text>
<text x="10" y="1302" font-size="43" fill="#111">B</text>

<text x="152" y="106" font-size="25" fill="#111" textLength="85" lengthAdjust="spacingAndGlyphs">Female</text>
<g stroke="#111" stroke-width="2.4" fill="none">
<circle cx="282" cy="97" r="12"/>
<path d="M282,109V119M277,114H287"/>
</g>
<text x="164" y="1365" font-size="25" fill="#111" textLength="57" lengthAdjust="spacingAndGlyphs">Male</text>
<g stroke="#111" stroke-width="2.4" fill="none">
<circle cx="276" cy="1366" r="11"/>
<path d="M284,1358L297,1347M289,1347H297V1355"/>
</g>

<!-- statistical significance -->
<g fill="#111" font-size="25" text-anchor="end">
<text x="1834" y="156" textLength="286" lengthAdjust="spacingAndGlyphs">statistical significance</text>
<text x="1834" y="1415" textLength="286" lengthAdjust="spacingAndGlyphs">statistical significance</text>
<text x="1834" y="778" textLength="286" lengthAdjust="spacingAndGlyphs">statistical significance</text>
<text x="1834" y="2038" textLength="286" lengthAdjust="spacingAndGlyphs">statistical significance</text>
</g>
<g fill="#111" font-size="26" text-anchor="end">
<text x="2089" y="191" textLength="215" lengthAdjust="spacingAndGlyphs"><tspan font-style="italic">zyp1</tspan> vs <tspan font-style="italic">scep1-1</tspan></text>
<text x="2089" y="252" textLength="182" lengthAdjust="spacingAndGlyphs">wt vs <tspan font-style="italic">scep1-1</tspan></text>
<text x="2089" y="1454" textLength="215" lengthAdjust="spacingAndGlyphs"><tspan font-style="italic">zyp1</tspan> vs <tspan font-style="italic">scep1-1</tspan></text>
<text x="2089" y="1515" textLength="182" lengthAdjust="spacingAndGlyphs">wt vs <tspan font-style="italic">scep1-1</tspan></text>
<text x="2089" y="810" textLength="215" lengthAdjust="spacingAndGlyphs"><tspan font-style="italic">zyp1</tspan> vs <tspan font-style="italic">scep1-1</tspan></text>
<text x="2089" y="876" textLength="182" lengthAdjust="spacingAndGlyphs">wt vs <tspan font-style="italic">scep1-1</tspan></text>
<text x="2089" y="2073" textLength="215" lengthAdjust="spacingAndGlyphs"><tspan font-style="italic">zyp1</tspan> vs <tspan font-style="italic">scep1-1</tspan></text>
<text x="2089" y="2135" textLength="182" lengthAdjust="spacingAndGlyphs">wt vs <tspan font-style="italic">scep1-1</tspan></text>
</g>

<!-- arrows -->
<g stroke="#000" stroke-width="3">
<path d="M1816,182H1858M1816,243H1858M1816,1445H1858M1816,1506H1858M1816,801H1858M1816,867H1858M1816,2064H1858M1816,2126H1858"/>
</g>
<g fill="#000">
<polygon points="1800,182 1828,171 1821,182 1828,193"/>
<polygon points="1800,243 1828,232 1821,243 1828,254"/>
<polygon points="1800,1445 1828,1434 1821,1445 1828,1456"/>
<polygon points="1800,1506 1828,1495 1821,1506 1828,1517"/>
<polygon points="1800,801 1828,790 1821,801 1828,812"/>
<polygon points="1800,867 1828,856 1821,867 1828,878"/>
<polygon points="1800,2064 1828,2053 1821,2064 1828,2075"/>
<polygon points="1800,2126 1828,2115 1821,2126 1828,2137"/>
</g>

<!-- legends -->
<g stroke-width="3">
<line x1="1881" y1="580" x2="1905" y2="580" stroke="#2b8cc4"/>
<line x1="1881" y1="616" x2="1905" y2="616" stroke="#e3261f"/>
<line x1="1881" y1="652" x2="1905" y2="652" stroke="#9a45b0"/>
<line x1="1881" y1="1841" x2="1905" y2="1841" stroke="#1e8b3b"/>
<line x1="1881" y1="1877" x2="1905" y2="1877" stroke="#ff8205"/>
<line x1="1881" y1="1913" x2="1905" y2="1913" stroke="#f26eb8"/>
</g>
<g fill="#111" font-size="28">
<text x="1925" y="589" textLength="139" lengthAdjust="spacingAndGlyphs">Wild type</text>
<text x="2064" y="622" text-anchor="end" font-style="italic">zyp1</text>
<text x="2064" y="655" text-anchor="end" font-style="italic" textLength="129" lengthAdjust="spacingAndGlyphs">scep1−1</text>
<text x="1925" y="1850" textLength="139" lengthAdjust="spacingAndGlyphs">Wild type</text>
<text x="2064" y="1883" text-anchor="end" font-style="italic">zyp1</text>
<text x="2064" y="1916" text-anchor="end" font-style="italic" textLength="129" lengthAdjust="spacingAndGlyphs">scep1−1</text>
</g>

<!-- significance stars -->
<g fill="#2d3a4f" font-size="30" text-anchor="middle">
<text x="178.8" y="264">*</text><text x="234.4" y="264">*</text><text x="263.2" y="264">*</text><text x="288" y="264">*</text><text x="344.2" y="264">*</text>
<text x="781.5" y="264">*</text><text x="810.3" y="264">*</text><text x="863.9" y="264">*</text><text x="891.3" y="264">*</text><text x="919.4" y="264">*</text><text x="946.9" y="264">*</text>
<text x="1078.9" y="264">*</text><text x="1104.7" y="264">*</text><text x="1132.6" y="264">*</text><text x="1160.5" y="264">*</text><text x="1187" y="264">*</text><text x="1214.2" y="264">*</text>
<text x="1512.9" y="264">*</text><text x="1622.5" y="264">*</text><text x="1650.4" y="264">*</text><text x="1678.3" y="264">*</text><text x="1704.8" y="264">*</text><text x="1732.7" y="264">*</text><text x="1760.6" y="264">*</text><text x="1788.5" y="264">*</text>
<text x="184.4" y="884">*</text><text x="288.8" y="884">*</text><text x="363.8" y="884">*</text><text x="464.3" y="884">*</text><text x="516.5" y="884">*</text><text x="541.5" y="884">*</text><text x="567" y="884">*</text><text x="591.5" y="884">*</text><text x="609.4" y="884">*</text>
<text x="700.3" y="884">*</text><text x="729.3" y="884">*</text><text x="829.7" y="884">*</text><text x="854.3" y="884">*</text><text x="979.3" y="884">*</text><text x="1204.7" y="884">*</text>
<text x="1267.2" y="818">*</text>
<text x="1357.2" y="884">*</text><text x="1557.2" y="884">*</text><text x="1634.2" y="884">*</text><text x="1660.5" y="884">*</text><text x="1759.7" y="884">*</text><text x="1786" y="884">*</text>
<text x="1634.2" y="818">*</text><text x="1759.7" y="818">*</text><text x="1786" y="818">*</text>
<text x="919.4" y="1524">*</text><text x="946.9" y="1524">*</text>
<text x="1679" y="1523">*</text><text x="1788.6" y="1523">*</text>
<text x="134.8" y="2146">*</text><text x="363.8" y="2146">*</text><text x="609.4" y="2146">*</text>
<text x="1179.3" y="2146">*</text><text x="1253.8" y="2146">*</text><text x="1265.9" y="2146">*</text>
<text x="1357.2" y="2146">*</text><text x="1710" y="2146">*</text>
<text x="1759.7" y="2081">*</text><text x="1786" y="2081">*</text>
</g>
</svg>
</body></html>
